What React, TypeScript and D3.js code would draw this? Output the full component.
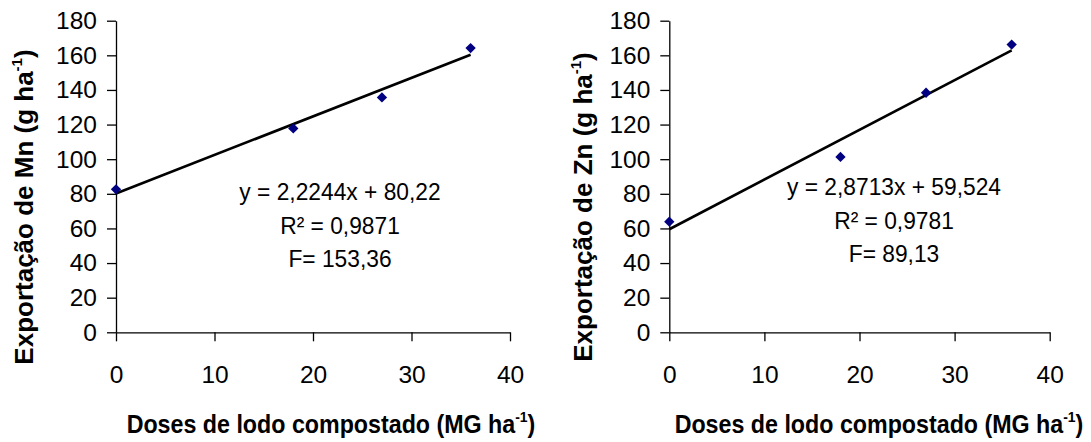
import React, { useEffect, useRef } from "react";
import * as d3 from "d3";

// doses de lodo (MG ha-1) and measured export values
const doses = [0, 18, 27, 36];
const mnValues = [82.6, 117.8, 135.7, 164.2];
const znValues = [63.9, 101.3, 138.4, 166.2];
const xTicks = [0, 10, 20, 30, 40];
const yTicks = [0, 20, 40, 60, 80, 100, 120, 140, 160, 180];
const mnFit = [2.2244, 80.22];
const znFit = [2.8713, 59.524];
const mnLabels = ["y = 2,2244x + 80,22", "R² = 0,9871", "F= 153,36"];
const znLabels = ["y = 2,8713x + 59,524", "R² = 0,9781", "F= 89,13"];

const FONT = "'Liberation Sans', Arial, sans-serif";

function drawPanel(svg, opts) {
  const { x0, x1, values, fit, labels, element, labelX, labelY, yTitleX, xTitleX } = opts;
  const x = d3.scaleLinear().domain([0, 40]).range([x0, x1]);
  const y = d3.scaleLinear().domain([0, 180]).range([332.3, 20.7]);
  const g = svg.append("g");

  const xAxis = g.append("g")
    .attr("transform", `translate(0,${y(0)})`)
    .call(d3.axisBottom(x).tickValues(xTicks).tickSize(9).tickSizeOuter(0).tickPadding(24));
  const yAxis = g.append("g")
    .attr("transform", `translate(${x(0)},0)`)
    .call(d3.axisLeft(y).tickValues(yTicks).tickSize(9).tickSizeOuter(0).tickPadding(10));
  [xAxis, yAxis].forEach((a) => {
    a.selectAll("path,line").attr("stroke", "#000").attr("stroke-width", 1.3);
    a.selectAll("text").attr("font-family", FONT).attr("font-size", 24.5).attr("fill", "#000");
  });

  const line = (v) => fit[0] * v + fit[1];
  g.append("line")
    .attr("x1", x(doses[0]))
    .attr("y1", y(line(doses[0])))
    .attr("x2", x(doses[doses.length - 1]))
    .attr("y2", y(line(doses[doses.length - 1])))
    .attr("stroke", "#000")
    .attr("stroke-width", 2.6);

  const diamond = d3.symbol().type(d3.symbolDiamond2).size(68);
  g.selectAll(".pt")
    .data(doses)
    .enter()
    .append("path")
    .attr("d", diamond)
    .attr("transform", (d, i) => `translate(${x(d)},${y(values[i])})`)
    .attr("fill", "#000080");

  labels.forEach((t, i) => {
    g.append("text")
      .attr("transform", `translate(${labelX},${labelY + i * 33.5}) scale(0.93,1)`)
      .attr("text-anchor", "middle")
      .attr("font-family", FONT)
      .attr("font-size", 24.5)
      .text(t);
  });

  // y title
  const yt = g.append("text")
    .attr("transform", `translate(${yTitleX},207) rotate(-90)`)
    .attr("text-anchor", "middle")
    .attr("font-family", FONT)
    .attr("font-weight", "bold")
    .attr("font-size", 26);
  yt.append("tspan").text(`Exportação de ${element} (g ha`);
  yt.append("tspan").attr("font-size", 15).attr("dy", -11).text("-1");
  yt.append("tspan").attr("dy", 11).text(")");

  // x title
  const xt = g.append("text")
    .attr("transform", `translate(${xTitleX},433) scale(0.93,1)`)
    .attr("text-anchor", "middle")
    .attr("font-family", FONT)
    .attr("font-weight", "bold")
    .attr("font-size", 25);
  xt.append("tspan").text("Doses de lodo compostado (MG ha");
  xt.append("tspan").attr("font-size", 15).attr("dy", -11).text("-1");
  xt.append("tspan").attr("dy", 11).text(")");
}

export default function App() {
  const ref = useRef(null);
  useEffect(() => {
    const svg = d3.select(ref.current);
    svg.selectAll("*").remove();
    drawPanel(svg, {
      x0: 116, x1: 510, values: mnValues, fit: mnFit, labels: mnLabels, element: "Mn",
      labelX: 340, labelY: 200, yTitleX: 33, xTitleX: 331,
    });
    drawPanel(svg, {
      x0: 669.3, x1: 1049.7, values: znValues, fit: znFit, labels: znLabels, element: "Zn",
      labelX: 894, labelY: 195, yTitleX: 592, xTitleX: 879,
    });
  }, []);
  return (
    <svg
      ref={ref}
      width={1091}
      height={442}
      style={{ position: "absolute", left: 0, top: 0, background: "#fff" }}
    />
  );
}
